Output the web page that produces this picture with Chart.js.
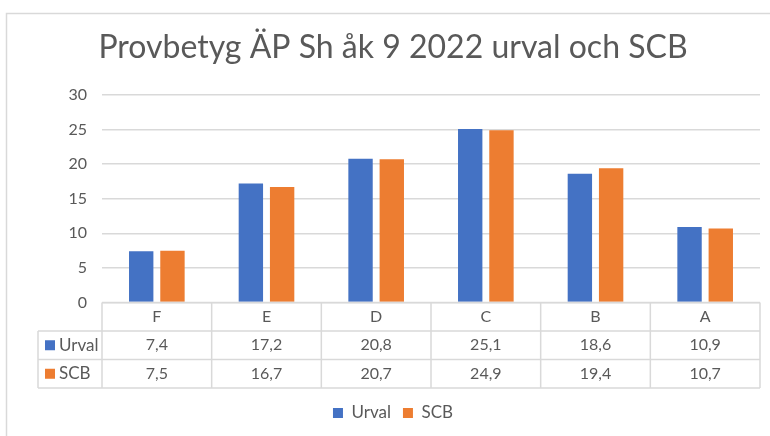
<!DOCTYPE html>
<html>
<head>
<meta charset="utf-8">
<script src="https://cdn.jsdelivr.net/npm/chart.js@4"></script>
<style>
html,body{margin:0;padding:0;background:#fff;}
#wrap{width:770px;height:436px;position:relative;}
</style>
</head>
<body>
<div id="wrap"><canvas id="c" width="770" height="436"></canvas></div>
<script>
const categories = ["F", "E", "D", "C", "B", "A"];
const urval = [7.4, 17.2, 20.8, 25.1, 18.6, 10.9];
const scb = [7.5, 16.7, 20.7, 24.9, 19.4, 10.7];
const seriesNames = ["Urval", "SCB"];
const yTicks = [0, 5, 10, 15, 20, 25, 30];
const titleText = "Provbetyg ÄP Sh åk 9 2022 urval och SCB";

const FONT = "Lato, 'Open Sans', sans-serif";
const TXT = "#595959";
const GRID = "#d9d9d9";
const BLUE = "#4472C4";
const ORANGE = "#ED7D31";

const fmt = v => v.toFixed(1).replace(".", ",");

const tablePlugin = {
  id: "dataTable",
  beforeDraw(chart) {
    const ctx = chart.ctx;
    ctx.save();
    ctx.fillStyle = "#fff";
    ctx.fillRect(0, 0, chart.width, chart.height);
    ctx.strokeStyle = GRID;
    ctx.lineWidth = 1.5;
    ctx.beginPath();
    ctx.moveTo(6.5, chart.height);
    ctx.lineTo(6.5, 13.5);
    ctx.lineTo(chart.width, 13.5);
    ctx.stroke();
    ctx.restore();
  },
  afterDraw(chart) {
    const ctx = chart.ctx;
    const x = chart.scales.x;
    const area = chart.chartArea;
    const top = area.bottom;
    const rowH = 28.5;
    const left = area.left;
    const right = area.right;
    const labelLeft = 38;
    const n = categories.length;
    const step = (right - left) / n;
    ctx.save();
    ctx.strokeStyle = GRID;
    ctx.lineWidth = 1.5;
    ctx.beginPath();
    ctx.moveTo(left, top); ctx.lineTo(right, top);
    for (let r = 1; r <= 3; r++) {
      const yy = top + r * rowH;
      ctx.moveTo(labelLeft, yy); ctx.lineTo(right, yy);
    }
    for (let i = 0; i <= n; i++) {
      const xx = left + i * step;
      ctx.moveTo(xx, top); ctx.lineTo(xx, top + 3 * rowH);
    }
    ctx.moveTo(labelLeft, top + rowH); ctx.lineTo(labelLeft, top + 3 * rowH);
    ctx.stroke();

    ctx.fillStyle = TXT;
    ctx.font = "16px " + FONT;
    ctx.textAlign = "center";
    ctx.textBaseline = "middle";
    categories.forEach((c, i) => {
      const cx = x.getPixelForValue(i);
      ctx.fillText(c, cx, top + rowH / 2);
      ctx.fillText(fmt(urval[i]), cx, top + rowH * 1.5);
      ctx.fillText(fmt(scb[i]), cx, top + rowH * 2.5);
    });
    const colors = [BLUE, ORANGE];
    ctx.font = "17px " + FONT;
    seriesNames.forEach((s, k) => {
      const cy = top + rowH * (1.5 + k);
      ctx.fillStyle = colors[k];
      ctx.fillRect(45, cy - 5, 10, 10);
      ctx.fillStyle = TXT;
      ctx.textAlign = "left";
      ctx.fillText(s, 59, cy);
    });
    ctx.restore();
  }
};

new Chart(document.getElementById("c"), {
  type: "bar",
  data: {
    labels: categories,
    datasets: [
      { label: seriesNames[0], data: urval, backgroundColor: BLUE, barPercentage: 0.78, categoryPercentage: 0.57 },
      { label: seriesNames[1], data: scb, backgroundColor: ORANGE, barPercentage: 0.78, categoryPercentage: 0.57 }
    ]
  },
  options: {
    responsive: false,
    animation: false,
    layout: { padding: { left: 26, right: 10, top: 0, bottom: 4.5 } },
    plugins: {
      tooltip: { enabled: false },
      title: {
        display: true,
        text: titleText,
        color: TXT,
        font: { family: FONT, size: 32, weight: "normal", lineHeight: 1.2 },
        padding: { top: 28, bottom: 28.6 }
      },
      legend: {
        display: true,
        position: "bottom",
        labels: {
          color: TXT,
          font: { family: FONT, size: 17 },
          boxWidth: 10,
          boxHeight: 10,
          padding: 12
        }
      }
    },
    scales: {
      x: {
        display: true,
        grid: { display: false },
        border: { display: false },
        ticks: { display: false },
        afterFit(s) { s.height = 90; }
      },
      y: {
        min: 0,
        max: 30,
        afterBuildTicks(s) { s.ticks = yTicks.map(v => ({ value: v })); },
        grid: { color: GRID, lineWidth: 1.5, drawTicks: false },
        border: { display: false },
        ticks: { color: TXT, font: { family: FONT, size: 16 }, padding: 15 },
        afterFit(s) { s.width = 76; }
      }
    }
  },
  plugins: [tablePlugin]
});
</script>
</body>
</html>
